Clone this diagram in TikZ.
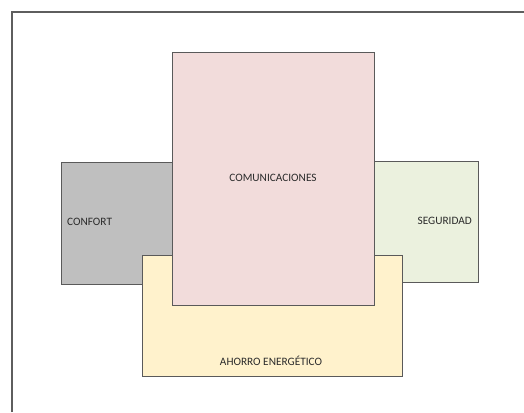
\documentclass[tikz,border=0pt]{standalone}
\usepackage{fontspec}
\setmainfont{Carlito}
\definecolor{framegray}{HTML}{5E5E5E}
\definecolor{edgegray}{HTML}{5A5A5A}
\definecolor{confortfill}{HTML}{BFBFBF}
\definecolor{segfill}{HTML}{EBF1DE}
\definecolor{ahorrofill}{HTML}{FFF2CC}
\definecolor{comfill}{HTML}{F2DCDB}
\definecolor{labeltext}{HTML}{2B2B2B}
\tikzset{
  area/.style={draw=edgegray, line width=1pt, rectangle, inner sep=0pt, anchor=north west},
  arealabel/.style={font=\fontsize{11.3}{13}\selectfont, text=labeltext, inner sep=0pt},
  outerframe/.style={draw=framegray, line width=2pt}
}
\begin{document}
\begin{tikzpicture}[x=1pt, y=-1pt]
  \useasboundingbox (0,0) rectangle (524,412);
  % page frame, open towards right and bottom
  \draw[outerframe] (12,412) -- (12,12) -- (524,12);

  % overlapping areas, back to front
  \node[area, fill=confortfill, minimum width=111pt, minimum height=122pt] (confort) at (61,162) {};
  \node[area, fill=segfill, minimum width=104pt, minimum height=121pt] (seguridad) at (374,161) {};
  \node[area, fill=ahorrofill, minimum width=260pt, minimum height=121pt] (ahorro) at (142,255) {};
  \node[area, fill=comfill, minimum width=202pt, minimum height=253pt] (comunicaciones) at (172,52) {};

  % area names
  \node[arealabel, anchor=base west] (tconfort) at (67,225.8) {CONFORT};
  \node[arealabel, anchor=base east] (tseguridad) at (472,224.8) {SEGURIDAD};
  \node[arealabel, anchor=base] (tahorro) at (271,365.8) {AHORRO ENERGÉTICO};
  \node[arealabel, anchor=base] (tcom) at (273,181.8) {COMUNICACIONES};
\end{tikzpicture}
\end{document}
